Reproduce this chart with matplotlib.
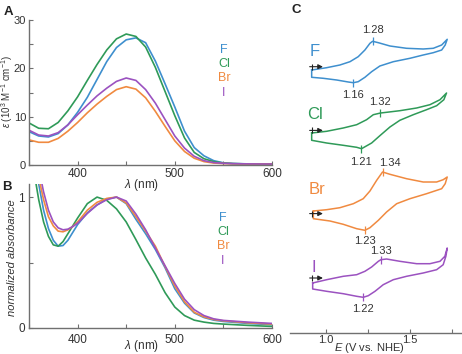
import numpy as np
import matplotlib
matplotlib.use('Agg')
import matplotlib.pyplot as plt

plt.rcParams['font.family'] = ['Liberation Sans', 'DejaVu Sans']
plt.rcParams['mathtext.fontset'] = 'custom'
plt.rcParams['mathtext.rm'] = 'Liberation Sans'
plt.rcParams['mathtext.it'] = 'Liberation Sans:italic'
plt.rcParams['mathtext.bf'] = 'Liberation Sans:bold'

W, H = 462, 354
halides = ['F', 'Cl', 'Br', 'I']
colors = ['#3e8fce', '#2f9a58', '#f08a40', '#9b52c0']

# ---------------- Panel A: molar absorptivity (10^3 M^-1 cm^-1)
wl_a = [350, 360, 370, 380, 390, 400, 410, 420, 430, 440, 450, 460, 470,
        480, 490, 500, 510, 520, 530, 540, 550, 560, 570, 580, 590, 600]
eps_F = [6.9, 6.0, 5.8, 6.5, 8.3, 10.9, 14.0, 17.7, 21.4, 24.3, 25.9, 26.3, 25.3,
         21.5, 16.8, 12.0, 7.0, 3.6, 1.9, 0.9, 0.45, 0.3, 0.25, 0.22, 0.2, 0.2]
eps_Cl = [8.7, 7.6, 7.5, 8.8, 11.2, 14.1, 17.5, 20.8, 23.8, 26.1, 27.1, 26.6, 24.4,
          20.2, 15.2, 10.2, 5.6, 2.6, 1.3, 0.7, 0.4, 0.3, 0.25, 0.22, 0.2, 0.2]
eps_Br = [5.2, 4.7, 4.7, 5.5, 7.0, 8.8, 10.8, 12.6, 14.2, 15.6, 16.2, 15.7, 13.9,
          11.1, 8.0, 5.0, 2.8, 1.4, 0.7, 0.4, 0.3, 0.25, 0.22, 0.2, 0.2, 0.2]
eps_I = [7.2, 6.2, 6.0, 6.7, 8.3, 10.4, 12.4, 14.3, 15.9, 17.3, 18.0, 17.5, 15.6,
         12.8, 9.4, 6.0, 3.5, 1.8, 0.9, 0.5, 0.35, 0.28, 0.24, 0.22, 0.2, 0.2]

# ---------------- Panel B: normalized absorbance
wl_b = [350, 355, 360, 365, 370, 375, 380, 385, 390, 395, 400, 410, 420, 430,
        440, 450, 460, 470, 480, 490, 500, 510, 520, 530, 540, 550, 575, 600]
abs_F = [1.6, 1.38, 1.1, 0.9, 0.76, 0.67, 0.625, 0.63, 0.67, 0.73, 0.79, 0.88, 0.94, 0.985,
         1.0, 0.95, 0.83, 0.72, 0.60, 0.46, 0.30, 0.19, 0.115, 0.08, 0.06, 0.05, 0.035, 0.025]
abs_Cl = [1.5, 1.2, 0.98, 0.81, 0.70, 0.635, 0.625, 0.66, 0.72, 0.78, 0.84, 0.95, 1.0, 0.975,
          0.91, 0.81, 0.675, 0.535, 0.41, 0.27, 0.16, 0.095, 0.06, 0.045, 0.035, 0.03, 0.02, 0.012]
abs_Br = [1.6, 1.35, 1.15, 0.98, 0.85, 0.78, 0.74, 0.735, 0.75, 0.775, 0.81, 0.90, 0.96, 0.99,
          1.0, 0.955, 0.85, 0.74, 0.625, 0.47, 0.32, 0.20, 0.12, 0.085, 0.065, 0.055, 0.04, 0.03]
abs_I = [1.7, 1.45, 1.22, 1.04, 0.90, 0.81, 0.765, 0.75, 0.755, 0.775, 0.80, 0.875, 0.94, 0.98,
         1.0, 0.97, 0.87, 0.75, 0.61, 0.475, 0.34, 0.22, 0.14, 0.095, 0.07, 0.058, 0.045, 0.035]

# ---------------- Panel C: cyclic voltammograms (E in V vs NHE, current in arb. units)
E_F_fwd = [0.915, 1.004, 1.083, 1.143, 1.192, 1.232, 1.262, 1.278, 1.312, 1.381, 1.480, 1.579, 1.639, 1.689, 1.722]
I_F_fwd = [0, 2.3, 5.0, 8.3, 13.3, 20.0, 26.7, 28.7, 27.3, 24.0, 21.7, 21.0, 21.7, 25.0, 30.7]
E_F_rev = [1.722, 1.710, 1.689, 1.639, 1.579, 1.500, 1.401, 1.321, 1.272, 1.232, 1.192, 1.163, 1.133, 1.064, 0.984, 0.915]
I_F_rev = [30.7, 25.0, 20.0, 17.3, 15.0, 11.7, 8.3, 4.0, -1.7, -7.3, -11.7, -12.7, -12.0, -10.0, -8.3, -7.3]

E_Cl_fwd = [0.915, 1.004, 1.103, 1.183, 1.242, 1.282, 1.325, 1.361, 1.440, 1.540, 1.619, 1.679, 1.718]
I_Cl_fwd = [0, 1.7, 5.0, 8.3, 13.3, 18.3, 20.0, 20.7, 22.3, 25.0, 28.3, 33.3, 40.0]
E_Cl_rev = [1.718, 1.702, 1.659, 1.599, 1.520, 1.440, 1.381, 1.321, 1.272, 1.212, 1.183, 1.103, 1.004, 0.915]
I_Cl_rev = [40.0, 33.3, 27.3, 23.3, 18.3, 12.7, 6.0, -2.7, -10.0, -15.7, -14.3, -12.3, -10.0, -7.3]

E_Br_fwd = [0.925, 1.004, 1.083, 1.163, 1.222, 1.262, 1.302, 1.337, 1.381, 1.480, 1.579, 1.659, 1.698, 1.722]
I_Br_fwd = [0, 1.3, 3.3, 7.3, 12.3, 20.0, 30.7, 39.0, 36.7, 32.3, 29.0, 29.0, 31.3, 34.0]
E_Br_rev = [1.722, 1.710, 1.689, 1.599, 1.500, 1.421, 1.361, 1.312, 1.262, 1.232, 1.183, 1.103, 1.024, 0.925]
I_Br_rev = [34.0, 27.3, 22.3, 17.3, 12.3, 7.3, -1.0, -9.3, -16.7, -19.3, -17.7, -13.3, -10.0, -7.7]

E_I_fwd = [0.921, 1.004, 1.103, 1.183, 1.232, 1.272, 1.312, 1.327, 1.361, 1.440, 1.540, 1.619, 1.679, 1.708, 1.722]
I_I_fwd = [0, 3.3, 6.7, 8.3, 11.7, 16.0, 21.7, 23.3, 24.0, 21.7, 19.3, 19.3, 21.7, 26.7, 35.0]
E_I_rev = [1.722, 1.714, 1.698, 1.659, 1.579, 1.480, 1.401, 1.341, 1.292, 1.252, 1.222, 1.183, 1.103, 1.004, 0.921]
I_I_rev = [35.0, 26.7, 18.3, 13.3, 10.0, 6.7, 3.3, -1.7, -8.3, -12.7, -14.3, -13.3, -10.7, -8.3, -6.0]

E_ox = [1.28, 1.32, 1.34, 1.33]
E_red = [1.16, 1.21, 1.23, 1.22]
cv_offsets = [263, 200, 122, 50]
arrow_dy = [3.3, 2.6, -2.6, 5.0]

# ----------------------------------------------------------------
def fp(x, y):
    return x / W, 1 - y / H

def rect(l, t, r, b):
    return [l / W, 1 - b / H, (r - l) / W, (b - t) / H]

spine_c = '#707070'
text_c = '#333333'

fig = plt.figure(figsize=(W / 100, H / 100), dpi=100)

def style(ax, left=True):
    for s in ['top', 'right']:
        ax.spines[s].set_visible(False)
    if not left:
        ax.spines['left'].set_visible(False)
    for s in ['left', 'bottom']:
        ax.spines[s].set_color(spine_c)
        ax.spines[s].set_linewidth(1.0)
    ax.tick_params(direction='in', length=3, width=0.8, color=spine_c,
                   labelcolor=text_c, labelsize=8.5)
    ax.tick_params(which='minor', direction='in', length=3, width=0.8, color=spine_c)
    ax.patch.set_alpha(0)

# Panel A
axA = fig.add_axes(rect(29, 20, 272, 165))
for y, c in zip([eps_F, eps_Cl, eps_Br, eps_I], colors):
    axA.plot(wl_a, y, color=c, lw=1.2, solid_joinstyle='round')
axA.set_xlim(350, 600)
axA.set_ylim(0, 30)
style(axA)
axA.set_xticks([400, 500, 600])
axA.set_xticks([350, 450, 550], minor=True)
axA.set_yticks([0, 10, 20, 30])
axA.set_yticks([5, 15, 25], minor=True)
axA.tick_params(axis='x', pad=2)
axA.tick_params(axis='y', pad=2, labelsize=8)

# Panel B
axB = fig.add_axes(rect(29, 184, 272, 328))
for y, c in zip([abs_F, abs_Cl, abs_Br, abs_I], colors):
    axB.plot(wl_b, y, color=c, lw=1.2, solid_joinstyle='round')
axB.set_xlim(350, 600)
axB.set_ylim(0, 1.1)
style(axB)
axB.set_xticks([400, 500, 600])
axB.set_xticks([350, 450, 550], minor=True)
axB.set_yticks([0, 1])
axB.set_yticklabels(['0', '1'])
axB.set_yticks([0.5], minor=True)
axB.tick_params(axis='x', pad=4)
axB.tick_params(axis='y', pad=3)

# Panel C
axC = fig.add_axes(rect(290, 20, 462, 333))
axC.set_xlim(0.786, 1.810)
axC.set_ylim(0, 313)
style(axC, left=False)
axC.set_yticks([])
axC.set_xticks([1.0, 1.5])
axC.set_xticklabels(['1.0', '1.5'])
axC.set_xticks([1.25, 1.75], minor=True)
axC.tick_params(axis='x', labelsize=8, pad=1.5)

cv = [(E_F_fwd, I_F_fwd, E_F_rev, I_F_rev),
      (E_Cl_fwd, I_Cl_fwd, E_Cl_rev, I_Cl_rev),
      (E_Br_fwd, I_Br_fwd, E_Br_rev, I_Br_rev),
      (E_I_fwd, I_I_fwd, E_I_rev, I_I_rev)]
label_xoff = [0, 0, 0.042, 0]
label_up = [11, 11, 9, 9]
label_dn = [12, 13, 11, 12]
name_pos = [(315, 51), (315, 115), (317, 189), (314, 267)]
for k, (ef, jf, er, jr) in enumerate(cv):
    off = cv_offsets[k]
    c = colors[k]
    E = list(ef) + list(er) + [ef[0]]
    J = list(jf) + list(jr) + [jf[0]]
    axC.plot(E, np.array(J) + off, color=c, lw=1.1, solid_joinstyle='round')
    yo = np.interp(E_ox[k], ef, jf) + off
    yr = np.interp(E_red[k], er[::-1], jr[::-1]) + off
    axC.plot([E_ox[k], E_red[k]], [yo, yr], ls='none', marker='|', ms=6, mew=0.9, color=c)
    axC.text(E_ox[k] + label_xoff[k], yo + label_up[k], f'{E_ox[k]:.2f}', ha='center', va='center',
             fontsize=8, color=text_c)
    axC.text(E_red[k], yr - label_dn[k], f'{E_red[k]:.2f}', ha='center', va='center',
             fontsize=8, color=text_c)
    ya = off + arrow_dy[k]
    axC.annotate('', xy=(0.982, ya), xytext=(0.903, ya),
                 arrowprops=dict(arrowstyle='-|>', color='#222222', lw=0.8,
                                 mutation_scale=7, shrinkA=0, shrinkB=0))
    axC.plot([0.915], [ya], marker='|', ms=4, mew=0.8, color='#222222')
    fig.text(*fp(*name_pos[k]), halides[k], color=c, fontsize=12, ha='center', va='center')

# legends in A and B
for k, h in enumerate(halides):
    fig.text(*fp(224, 50 + 14.2 * k), h, color=colors[k], fontsize=9, ha='center', va='center')
    fig.text(*fp(223, 218 + 14.2 * k), h, color=colors[k], fontsize=9, ha='center', va='center')

# axis labels
fig.text(*fp(7, 92), r'$\varepsilon$ (10$^{3}$ M$^{-1}$ cm$^{-1}$)', rotation=90,
         ha='center', va='center', fontsize=7, color=text_c)
fig.text(*fp(12, 258), 'normalized absorbance', rotation=90, style='italic',
         ha='center', va='center', fontsize=8, color=text_c)
fig.text(*fp(142, 185), r'$\lambda$ (nm)', ha='center', va='center', fontsize=8.5, color=text_c)
fig.text(*fp(142, 346), r'$\lambda$ (nm)', ha='center', va='center', fontsize=8.5, color=text_c)
fig.text(*fp(369, 348), r'$E$ (V vs. NHE)', ha='center', va='center', fontsize=8, color=text_c)

# panel letters
fig.text(*fp(8, 12), 'A', fontsize=9.5, fontweight='bold', ha='center', va='center', color='#222222')
fig.text(*fp(7, 187), 'B', fontsize=9.5, fontweight='bold', ha='center', va='center', color='#222222')
fig.text(*fp(296, 10), 'C', fontsize=9.5, fontweight='bold', ha='center', va='center', color='#222222')

fig.savefig('out.png', dpi=100)
